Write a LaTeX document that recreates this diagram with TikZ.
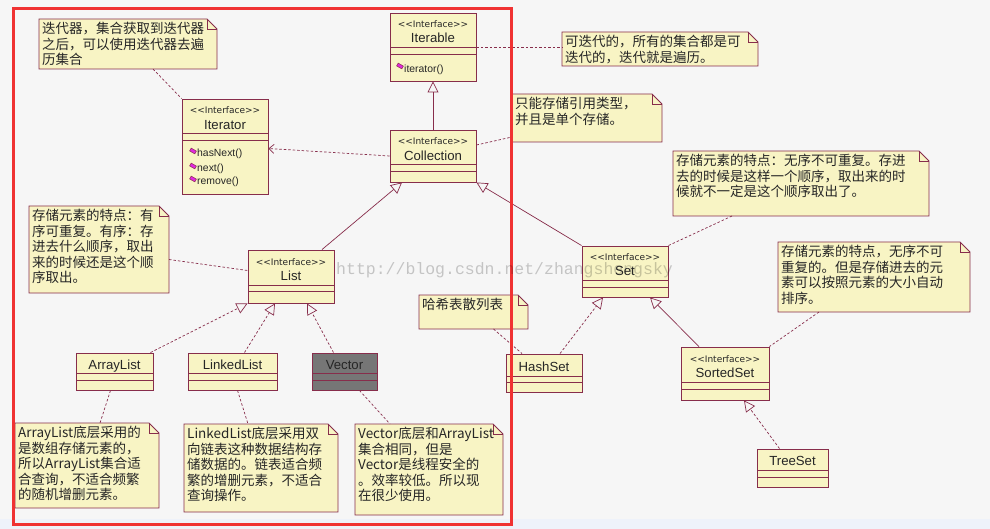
\documentclass[tikz,border=0pt]{standalone}
\usepackage{fontspec}
\setmainfont{Liberation Sans}
\setmonofont{Liberation Mono}
\newfontfamily\cjk{Noto Sans CJK SC}
\newfontfamily\dejavu{DejaVu Sans}
\usetikzlibrary{arrows.meta}
\definecolor{bg}{RGB}{246,246,246}
\definecolor{strip}{RGB}{238,242,250}
\definecolor{umlfill}{RGB}{248,244,196}
\definecolor{umlborder}{RGB}{135,45,75}
\definecolor{vecfill}{RGB}{118,118,118}
\definecolor{opmagenta}{RGB}{225,40,225}
\definecolor{redframe}{RGB}{240,50,50}
\newcommand{\stereotype}{<\kern0pt<Interface>\kern0pt>}
\newcommand{\umlclass}[8]{
  \node[umlbox, fill=#8, minimum width=#4pt-#2pt, minimum height=#5pt-#3pt] (#1) at ({(#2+#4)/2},{(#3+#5)/2}) {};
  \draw[umlline] (#2,#6) -- (#4,#6) (#2,#7) -- (#4,#7);
}
\newcommand{\umlnote}[6]{
  \node[notebox, minimum width=#4pt-#2pt, minimum height=#5pt-#3pt] (#1) at ({(#2+#4)/2},{(#3+#5)/2}) {};
  \draw[umlline, fill=umlfill] (#1.south west) -- (#1.north west) -- ([xshift=-10pt]#1.north east) -- ([yshift=-10pt]#1.north east) -- (#1.south east) -- cycle;
  \draw[umlline] ([xshift=-10pt]#1.north east) |- ([yshift=-10pt]#1.north east);
  \node[notetext] (#1-text) at (#2+3,#3+3) {#6};
}
\newcommand{\opicon}[2]{\filldraw[opicon, rotate around={-30:(#1,#2)}] (#1-3,#2-1.6) rectangle (#1+3,#2+1.6);}
\tikzset{
  umlbox/.style={draw=umlborder, line width=0.9pt, inner sep=0pt},
  notebox/.style={inner sep=0pt, outer sep=0pt},
  umlline/.style={draw=umlborder, line width=0.9pt},
  stereo/.style={font=\dejavu\fontsize{9}{10}\selectfont, text=black!85, inner sep=0pt},
  classname/.style={font=\fontsize{13.2}{15}\selectfont, text=black!85, inner sep=0pt},
  oplabel/.style={font=\fontsize{10.4}{12}\selectfont, text=black!85, anchor=west, inner sep=0pt},
  opicon/.style={fill=opmagenta, draw=umlborder, line width=0.5pt},
  notetext/.style={font=\cjk\fontsize{13.5}{15.5}\selectfont, text=black!85, align=left, anchor=north west, inner sep=0pt},
  anchorline/.style={draw=umlborder, line width=0.7pt, dash pattern=on 2.5pt off 2pt},
  inherit/.style={draw=umlborder, line width=0.7pt, -{Triangle[open, length=11pt, width=11pt]}},
  realize/.style={anchorline, -{Triangle[open, length=11pt, width=11pt]}},
  depend/.style={anchorline, -{Straight Barb[length=5pt, width=9pt]}},
  watermark/.style={font=\ttfamily\fontsize{16.5}{18}\selectfont, text=black, opacity=0.2, inner sep=0pt}
}
\begin{document}
\begin{tikzpicture}[x=1pt, y=-1pt]
\useasboundingbox (0,0) rectangle (990,529);
\fill[bg] (0,0) rectangle (990,529);
\fill[strip] (0,519) rectangle (990,529);
% notes
\umlnote{itnote}{39}{19}{217}{69}{迭代器，集合获取到迭代器\\之后，可以使用迭代器去遍\\历集合}
\umlnote{iterablenote}{562}{32}{758}{66}{可迭代的，所有的集合都是可\\迭代的，迭代就是遍历。}
\umlnote{collnote}{512}{94}{662}{142}{只能存储引用类型，\\并且是单个存储。}
\umlnote{setnote}{673}{151}{929}{216}{存储元素的特点：无序不可重复。存进\\去的时候是这样一个顺序，取出来的时\\候就不一定是这个顺序取出了。}
\umlnote{listnote}{29}{206}{169}{293}{存储元素的特点：有\\序可重复。有序：存\\进去什么顺序，取出\\来的时候还是这个顺\\序取出。}
\umlnote{alnote}{15}{423}{159}{508}{ArrayList底层采用的\\是数组存储元素的，\\所以ArrayList集合适\\合查询，不适合频繁\\的随机增删元素。}
\umlnote{llnote}{184}{424}{338}{512}{LinkedList底层采用双\\向链表这种数据结构存\\储数据的。链表适合频\\繁的增删元素，不适合\\查询操作。}
\umlnote{vecnote}{355}{424}{503}{515}{Vector底层和ArrayList\\集合相同，但是\\Vector是线程安全的\\。效率较低。所以现\\在很少使用。}
\umlnote{hashnote}{419}{295}{528}{329}{哈希表散列表}
\umlnote{sortednote}{778}{242}{970}{312}{存储元素的特点，无序不可\\重复的。但是存储进去的元\\素可以按照元素的大小自动\\排序。}
% classes
\umlclass{iterable}{390}{13}{476}{81}{47}{54}{umlfill}
\umlclass{iterator}{182}{99}{268}{194}{133}{140}{umlfill}
\umlclass{collection}{390}{130}{476}{182}{164}{171}{umlfill}
\umlclass{list}{248}{250}{334}{303}{285}{291}{umlfill}
\umlclass{set}{582}{246}{668}{297}{280}{287}{umlfill}
\umlclass{sortedset}{681}{347}{769}{400}{382}{389}{umlfill}
\umlclass{arraylist}{76}{353}{153}{390}{373}{380}{umlfill}
\umlclass{linkedlist}{188}{353}{277}{390}{373}{380}{umlfill}
\umlclass{vector}{312}{353}{377}{390}{373}{380}{vecfill}
\umlclass{hashset}{506}{354}{582}{392}{376}{382}{umlfill}
\umlclass{treeset}{757}{449}{828}{487}{470}{477}{umlfill}
\node[stereo] (iterable-st) at (433,24) {\stereotype};
\node[classname] (iterable-name) at (433,38) {Iterable};
\node[stereo] (iterator-st) at (225,110) {\stereotype};
\node[classname] (iterator-name) at (225,125) {Iterator};
\node[stereo] (collection-st) at (433,141) {\stereotype};
\node[classname] (collection-name) at (433,156) {Collection};
\node[stereo] (list-st) at (291,262) {\stereotype};
\node[classname] (list-name) at (291,276) {List};
\node[stereo] (set-st) at (625,257) {\stereotype};
\node[classname] (set-name) at (625,271) {Set};
\node[stereo] (sortedset-st) at (725,359) {\stereotype};
\node[classname] (sortedset-name) at (725,373) {SortedSet};
\node[classname] (arraylist-name) at (114.5,366) {ArrayList};
\node[classname] (linkedlist-name) at (232.5,365) {LinkedList};
\node[classname] (vector-name) at (344.5,365) {Vector};
\node[classname] (hashset-name) at (544,367) {HashSet};
\node[classname] (treeset-name) at (792.5,461) {TreeSet};
\opicon{400}{66}
\node[oplabel] (iterable-op) at (404,70) {iterator()};
\foreach \op/\y [count=\i] in {hasNext()/154, next()/169, remove()/182}{
  \opicon{193}{\y-3}
  \node[oplabel] (iterator-op\i) at (197,\y) {\op};
}
% connectors
\draw[anchorline] ([xshift=25pt]itnote.south) -- (iterator.north west);
\draw[depend] (collection.west) -- ([yshift=-2pt]iterator.east);
\draw[inherit] (collection.north) -- (iterable.south);
\draw[anchorline] (iterable.east) -- (iterable.east -| iterablenote.west);
\draw[anchorline] ([yshift=11pt]collection.east) -- ([yshift=-19pt]collnote.west);
\draw[inherit] ([xshift=31pt]list.north) -- ([xshift=-31pt]collection.south);
\draw[inherit] (set.north west) -- (collection.south east);
\draw[anchorline] ([xshift=-69pt]setnote.south) -- (set.north east);
\draw[anchorline] ([yshift=-10pt]listnote.east) -- ([yshift=6pt]list.west);
\draw[realize] ([xshift=-3pt]arraylist.north east) -- (list.south west);
\draw[realize] ([xshift=12pt]linkedlist.north) -- ([xshift=-16pt]list.south);
\draw[realize] ([xshift=-11pt]vector.north) -- ([xshift=16pt]list.south);
\draw[anchorline] ([xshift=-4pt]arraylist.south) -- ([xshift=13pt]alnote.north);
\draw[anchorline] ([xshift=5pt]linkedlist.south) -- ([xshift=-13pt]llnote.north);
\draw[anchorline] ([xshift=15pt]vector.south) -- ([xshift=-39pt]vecnote.north);
\draw[anchorline] ([xshift=20pt]hashnote.south) -- ([xshift=-22pt]hashset.north);
\draw[realize] ([xshift=16pt]hashset.north) -- ([xshift=-22pt]set.south);
\draw[inherit] ([xshift=-26pt]sortedset.north) -- ([xshift=25pt]set.south);
\draw[anchorline] ([xshift=-55pt]sortednote.south) -- (sortedset.north east);
\draw[realize] ([xshift=-13pt]treeset.north) -- ([xshift=19pt]sortedset.south);
\draw[redframe, line width=3pt] (13.5,9) rectangle (511.5,524);
\node[watermark, anchor=west] (wm) at (336,270) {http://blog.csdn.net/zhangshengsky};
\end{tikzpicture}
\end{document}
